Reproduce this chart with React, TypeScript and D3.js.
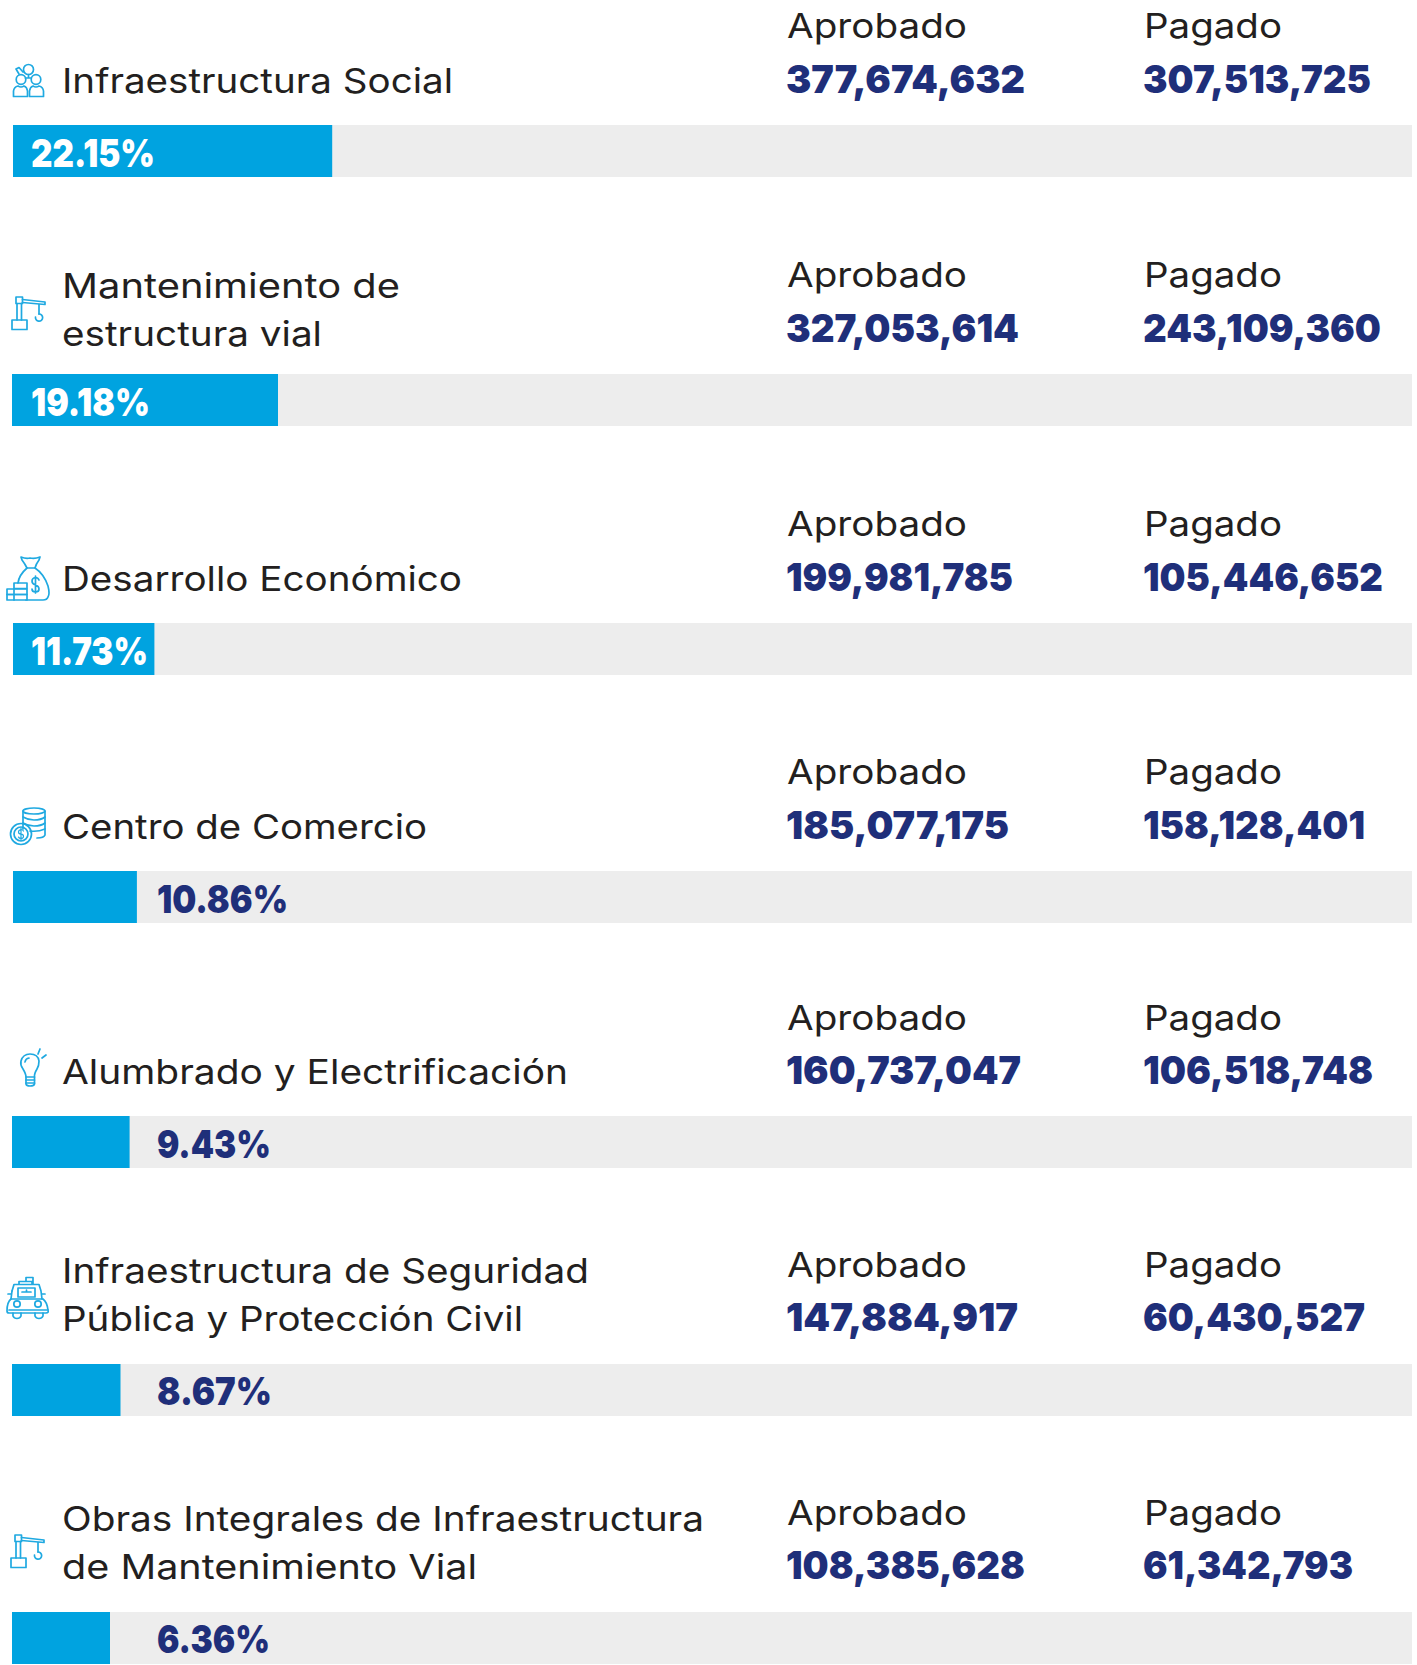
import React from "react";
import * as d3 from "d3";

const categories = [
  ["Infraestructura Social"],
  ["Mantenimiento de", "estructura vial"],
  ["Desarrollo Económico"],
  ["Centro de Comercio"],
  ["Alumbrado y Electrificación"],
  ["Infraestructura de Seguridad", "Pública y Protección Civil"],
  ["Obras Integrales de Infraestructura", "de Mantenimiento Vial"],
];
const aprobado = [377674632, 327053614, 199981785, 185077175, 160737047, 147884917, 108385628];
const pagado = [307513725, 243109360, 105446652, 158128401, 106518748, 60430527, 61342793];
const percentLabels = ["22.15%", "19.18%", "11.73%", "10.86%", "9.43%", "8.67%", "6.36%"];
// Drawn bar length, as a share of the track (not proportional to the label).
const barShares = [22.8, 19.0, 10.1, 8.85, 8.4, 7.75, 7.0];
const iconNames = ["people", "crane", "money", "coins", "bulb", "taxi", "crane"];

const W = 1417, H = 1665;
const barTops = [125, 374, 623, 871, 1116, 1364, 1612];
const barLefts = [13, 12, 13, 13, 12, 12, 12];
const BAR_H = 52;
const TRACK_RIGHT = 1412;
const BLUE = "#00A3E0", TRACK = "#EDEDED", DARK = "#231F20", NAVY = "#1F2F7A", ICON = "#1FA9E1";
const FONT = "Inter, sans-serif";
const fmt = d3.format(",");
const x = d3.scaleLinear().domain([0, 100]).range([12, TRACK_RIGHT]);

// Layout: rendered text widths, so the substitute font occupies the same room.
const labelWidths = [[391], [338, 260], [400], [365], [506], [527, 461], [642, 415]];
const aprWidths = [239, 233, 227, 223, 235, 232, 239];
const pagWidths = [228, 238, 240, 222, 230, 222, 210];
const pctWidths = [124, 119, 117, 131, 114, 115, 113];

function T({ x, y, w, children, ...p }: any) {
  return <text x={x} y={y} textLength={w} lengthAdjust="spacingAndGlyphs" fontFamily={FONT} {...p}>{children}</text>;
}

function Icon({ name, x, y }: any) {
  const common = { fill: "none", stroke: ICON, strokeWidth: 1.7, strokeLinejoin: "round", strokeLinecap: "round" } as any;
  let c = null;
  if (name === "people") c = (
    <>
      <circle cx="15.5" cy="5.5" r="5" />
      <circle cx="8" cy="15.5" r="4.8" /><circle cx="23" cy="15.5" r="4.8" />
      <path d="M6 10 L3 5 L6 3.5 L10 8 M12.5 14 H18 M15.5 10.5 V14" />
      <path d="M0.5 32.5 V27 Q1 23 5 22 Q8 24 11 22 Q14 23 14.5 27 V32.5 Z" />
      <path d="M16.5 32.5 V27 Q17 23 20 22 Q23 24 26 22 Q30 23 30.5 27 V32.5 Z" />
    </>
  );
  if (name === "crane") c = (
    <>
      <rect x="1" y="24" width="15" height="9.5" />
      <rect x="5" y="1" width="6.5" height="6.5" />
      <path d="M6 7.5 V24 M10.5 7.5 V24 M11.5 3.5 L34 6 V8.5 L11.5 6.5" />
      <path d="M28 8.5 V18" />
      <path d="M28 18 A3.6 3.6 0 1 1 24.5 21" />
    </>
  );
  if (name === "money") c = (
    <>
      <path d="M21 12 Q19 8 16 4 L15 1 Q20 3 24 2 Q29 3 34 1 L33 4 Q30 8 29 12 Z" />
      <path d="M21 12 Q13 19 12 27 M29 12 Q38 18 42 30 Q44 38 42 41 Q41 44 37 44 H20" />
      <path d="M29.5 20 V37 M33 24 Q32 21.5 29.5 21.5 Q26 22 26 25 Q26 28 29.5 29 Q33 30 33 33 Q33 36 29.5 36 Q26 36 26 33" />
      <rect x="8" y="27" width="13" height="5.5" />
      <rect x="1" y="33" width="20" height="5.5" />
      <rect x="1" y="38.5" width="20" height="5.5" />
      <path d="M8 33 V44" />
    </>
  );
  if (name === "coins") c = (
    <>
      <ellipse cx="24" cy="4" rx="11" ry="3" />
      <path d="M13 4 V22 M35 4 V28 Q34 31 27 31" />
      <path d="M13 10 Q18 13 24 13 Q31 13 35 10 M13 16 Q18 19 24 19 Q31 19 35 16 M20 24 Q28 25 35 22" />
      <circle cx="11" cy="27" r="10.5" />
      <circle cx="11" cy="27" r="7" />
      <path d="M13.5 24 Q12.5 22.5 11 22.5 Q8.5 23 8.5 25 Q8.5 27 11 27.2 Q13.5 27.5 13.5 29.3 Q13.5 31.5 11 31.5 Q9 31.5 8.5 30 M11 21 V33" strokeWidth="1.2" />
    </>
  );
  if (name === "bulb") c = (
    <>
      <path d="M6 35 V28 Q6 25 3 20 Q0 16 1 12 Q3 5 10 5 Q18 5 19 12 Q19 17 17 20 Q14 25 14.5 28 V35 Q14 37 10 37 Q6.5 37 6 35 Z" />
      <path d="M6 28 H14.5 M6 31 H14.5 M6 34 H14.5 M5 13 Q5.5 9.5 9 9" />
      <path d="M18 5 L20 0 M22 9 L26 6" />
    </>
  );
  if (name === "taxi") c = (
    <>
      <path d="M13 7 V4.5 H26 V7 M20 4.5 V0.5 H27 V7 M6 14 L8 7.5 H33 L35 14 L36 22" />
      <path d="M6 14 L5 22 M12 11 H29 V20 H12 Z M16 15 H25 M20.5 13 V15" />
      <path d="M5 22 Q1 25 1 34 Q1 36 3 36 H40 Q43 36 42 33 Q41 25 37 22 Z" />
      <circle cx="11" cy="27" r="3.2" /><circle cx="32" cy="27" r="3.2" />
      <path d="M3 33 H41" />
      <path d="M7 36 V39 Q8 41.5 11 41.5 Q14 41.5 15 39 V36 M29 36 V39 Q30 41.5 33 41.5 Q36 41.5 37 39 V36" />
      <path d="M2 17 H5 M36 17 H39" />
    </>
  );
  return <g transform={`translate(${x},${y})`} {...common}>{c}</g>;
}

const iconPos = [[13, 64], [11, 296], [6, 556], [10, 807], [20, 1049], [6, 1277], [10, 1534]];
const labelBase = [93, 298, 591, 839, 1084, 1283, 1531];
const aprBase = [38, 287, 536, 784, 1030, 1277, 1525];
const numBase = [93, 342, 591, 839, 1084, 1331, 1579];
const pctBase = [167, 416, 665, 913, 1158, 1405, 1653];
const LINE = 48;
const COL1 = 786, COL2 = 1143, LABEL_X = 62;

export default function App() {
  return (
    <svg width={W} height={H} viewBox={`0 0 ${W} ${H}`} style={{ position: "absolute", left: 0, top: 0, display: "block", background: "#fff" }}>
      {categories.map((lines, i) => {
        const top = barTops[i];
        const inside = i < 3;
        return (
          <g key={i}>
            <Icon name={iconNames[i]} x={iconPos[i][0]} y={iconPos[i][1]} />
            {lines.map((l, j) => (
              <T key={j} x={LABEL_X} y={labelBase[i] + j * LINE} w={labelWidths[i][j]} fontSize={34} fontWeight={400} fill={DARK}>{l}</T>
            ))}
            <T x={COL1 + 1} y={aprBase[i]} w={180} fontSize={34} fill={DARK}>Aprobado</T>
            <T x={COL2 + 1} y={aprBase[i]} w={138} fontSize={34} fill={DARK}>Pagado</T>
            <T x={COL1} y={numBase[i]} w={aprWidths[i]} fontSize={39} fontWeight={900} fill={NAVY}>{fmt(aprobado[i])}</T>
            <T x={COL2} y={numBase[i]} w={pagWidths[i]} fontSize={39} fontWeight={900} fill={NAVY}>{fmt(pagado[i])}</T>
            <rect x={barLefts[i]} y={top} width={TRACK_RIGHT - barLefts[i]} height={BAR_H} fill={TRACK} />
            <rect x={barLefts[i]} y={top} width={x(barShares[i]) - x(0)} height={BAR_H} fill={BLUE} />
            <T x={inside ? 31 : 157} y={pctBase[i]} w={pctWidths[i]} fontSize={39} fontWeight={900} fill={inside ? "#fff" : NAVY}>{percentLabels[i]}</T>
          </g>
        );
      })}
    </svg>
  );
}
